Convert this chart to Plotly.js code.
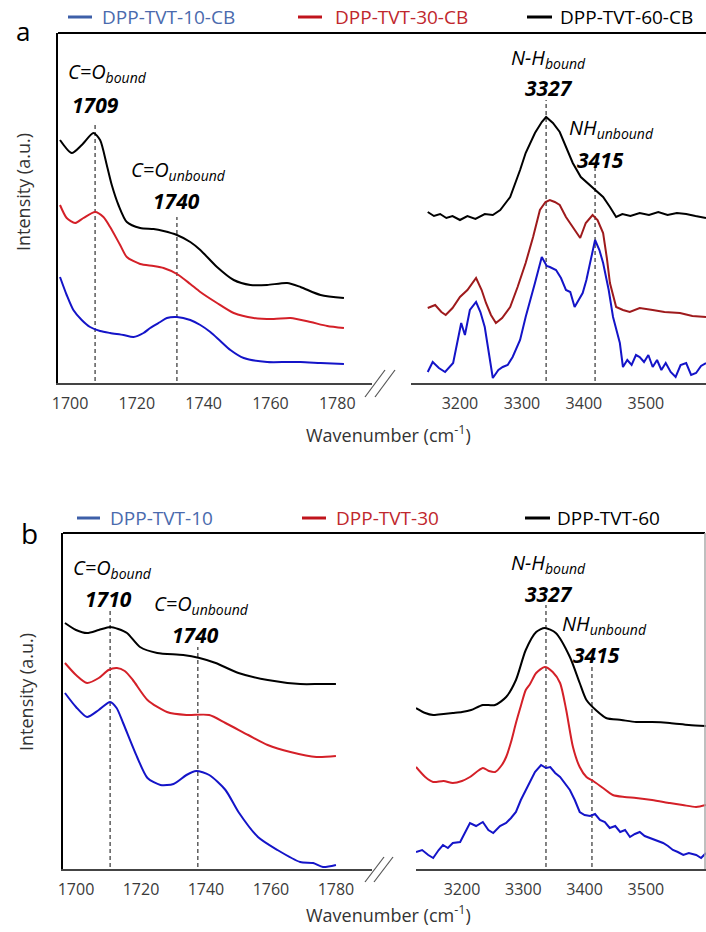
<!DOCTYPE html>
<html>
<head>
<meta charset="utf-8">
<script src="https://cdn.plot.ly/plotly-3.0.1.min.js"></script>
<style>html,body{margin:0;padding:0;background:#fff;}#chart{width:706px;height:932px;}</style>
</head>
<body>
<div id="chart"></div>
<script>
// ---------- Panel a (CB films) ----------
// C=O region
const aCO_black_x = [1697, 1700.5, 1703.5, 1707, 1709, 1711, 1712.5, 1714.5, 1717, 1721, 1725, 1728, 1732, 1736, 1739, 1744, 1749, 1754, 1759, 1765, 1769, 1775, 1782];
const aCO_black_y = [243, 230, 238, 250, 243, 218, 198, 178, 161, 155, 154, 152, 148, 141, 133, 116, 103, 98, 98, 100, 96, 88, 85];
const aCO_red_x = [1697, 1699, 1701.5, 1704, 1707.5, 1710, 1712, 1715, 1717, 1721, 1725, 1728, 1732, 1736, 1739, 1744, 1749, 1755, 1761, 1766, 1772, 1777, 1782];
const aCO_red_y = [178, 165, 160, 165, 171, 166, 156, 138, 126, 119, 117, 115, 109, 99, 91, 80, 70, 65, 64, 65, 61, 57, 55];
const aCO_blue_x = [1697, 1699, 1701, 1703.5, 1706, 1709, 1712, 1716, 1719, 1722, 1724, 1727, 1729, 1732, 1736, 1739, 1742, 1745, 1748, 1752, 1759, 1765, 1769, 1775, 1782];
const aCO_blue_y = [106, 88, 73, 63, 56, 52, 50, 48, 46, 50, 55, 61, 65, 66, 63, 58, 51, 42, 33, 25, 21, 21, 21, 20, 19];
// N-H region
const aNH_black_x = [3148, 3158, 3168, 3178, 3188, 3200, 3212, 3225, 3240, 3253, 3265, 3281, 3297, 3306, 3321, 3332, 3339, 3350, 3361, 3371, 3382, 3395, 3414, 3431, 3442, 3452, 3462, 3475, 3490, 3505, 3520, 3535, 3550, 3565, 3580, 3597];
const aNH_black_y = [171, 167, 169, 165, 167, 163, 167, 164, 169, 168, 173, 186, 213, 230, 250, 261, 266, 260, 251, 236, 220, 206, 195, 186, 176, 166, 169, 167, 170, 168, 171, 168, 170, 169, 167, 165];
const aNH_red_x = [3148, 3160, 3170, 3177, 3188, 3200, 3212, 3226, 3235, 3242, 3250, 3258, 3268, 3281, 3293, 3306, 3318, 3329, 3338, 3345, 3353, 3361, 3371, 3382, 3390, 3394, 3403, 3414, 3422, 3431, 3437, 3442, 3452, 3463, 3474, 3490, 3511, 3530, 3555, 3575, 3597];
const aNH_red_y = [75, 78, 71, 68, 75, 86, 93, 105, 93, 80, 68, 60, 65, 76, 96, 120, 146, 173, 181, 183, 181, 178, 166, 156, 148, 145, 160, 168, 163, 150, 125, 100, 76, 73, 71, 75, 73, 71, 70, 67, 66];
const aNH_blue_x = [3148, 3156, 3166, 3176, 3189, 3202, 3208, 3216, 3226, 3233, 3240, 3247, 3253, 3262, 3269, 3277, 3285, 3297, 3306, 3321, 3332, 3340, 3345, 3355, 3363, 3371, 3378, 3385, 3392, 3398, 3404, 3410, 3418, 3425, 3431, 3440, 3447, 3458, 3463, 3470, 3477, 3484, 3490, 3497, 3504, 3511, 3518, 3525, 3532, 3540, 3548, 3556, 3565, 3573, 3581, 3589, 3597];
const aNH_blue_y = [11, 21, 15, 11, 20, 60, 48, 73, 81, 71, 56, 28, 5, 13, 16, 18, 26, 43, 66, 100, 126, 117, 116, 113, 105, 93, 91, 76, 83, 90, 103, 120, 143, 133, 120, 93, 66, 40, 16, 23, 18, 28, 26, 21, 28, 16, 23, 13, 20, 11, 6, 18, 20, 8, 10, 17, 20];
// peak marker lines (position, top)
const aCO_peaks = [1707.5, 1732];
const aCO_peakTop = [261, 166];
const aNH_peaks = [3339, 3418];
const aNH_peakTop = [283, 215];

// ---------- Panel b (films) ----------
const bCO_black_x = [1696.6, 1700, 1703.4, 1707, 1710.5, 1713, 1715.7, 1719.7, 1725, 1733, 1738, 1743, 1750, 1759, 1769, 1775, 1780];
const bCO_black_y = [246, 239, 236, 239, 242, 240, 236, 222, 216, 214, 211, 206, 196, 189, 185, 185, 185];
const bCO_red_x = [1696.6, 1700, 1703.4, 1707, 1710, 1712.6, 1715, 1717.5, 1722, 1728, 1734, 1741, 1746, 1753, 1759, 1766, 1774, 1780];
const bCO_red_y = [206, 194, 186, 191, 199, 201, 198, 189, 169, 157, 154, 154, 146, 134, 124, 117, 112, 113];
const bCO_blue_x = [1696.6, 1700, 1703.4, 1707, 1710.5, 1712.5, 1714.5, 1718.8, 1722, 1726, 1730, 1734, 1737, 1741, 1746, 1750, 1756, 1762, 1769, 1773, 1776, 1780];
const bCO_blue_y = [176, 162, 152, 159, 167, 161, 146, 112, 91, 84, 85, 94, 98, 94, 79, 57, 32, 19, 7, 6, 2, 4];
const bNH_black_x = [3125, 3140, 3153, 3170, 3185, 3200, 3215, 3234, 3254, 3272, 3288, 3304, 3321, 3335, 3353, 3376, 3392, 3403, 3420, 3435, 3460, 3484, 3510, 3539, 3570, 3598];
const bNH_black_y = [161, 156, 154, 155, 156, 157, 159, 164, 164, 172, 189, 219, 237, 241, 236, 212, 186, 169, 158, 151, 149, 147, 147, 146, 144, 143];
const bNH_red_x = [3125, 3140, 3153, 3170, 3185, 3200, 3213, 3234, 3244, 3254, 3265, 3272, 3280, 3288, 3296, 3304, 3311, 3321, 3335, 3348, 3360, 3370, 3381, 3392, 3403, 3414, 3430, 3446, 3465, 3484, 3510, 3539, 3560, 3582, 3598];
const bNH_red_y = [102, 92, 87, 88, 86, 88, 92, 101, 98, 97, 104, 112, 127, 146, 163, 179, 185, 196, 202, 197, 186, 159, 122, 102, 92, 88, 81, 74, 72, 71, 69, 66, 64, 62, 64];
const bNH_blue_x = [3125, 3135, 3145, 3153, 3162, 3169, 3177, 3185, 3197, 3205, 3213, 3223, 3234, 3243, 3251, 3262, 3272, 3280, 3288, 3296, 3304, 3312, 3319, 3329, 3337, 3344, 3352, 3360, 3368, 3376, 3384, 3392, 3400, 3409, 3417, 3425, 3433, 3441, 3450, 3458, 3466, 3474, 3482, 3490, 3498, 3507, 3516, 3528, 3536, 3544, 3552, 3561, 3570, 3582, 3590, 3598];
const bNH_blue_y = [17, 19, 14, 11, 19, 24, 21, 26, 27, 37, 46, 43, 47, 39, 36, 43, 46, 51, 57, 69, 79, 89, 97, 104, 101, 102, 96, 92, 86, 79, 69, 57, 54, 53, 55, 49, 47, 41, 43, 37, 39, 32, 35, 37, 33, 31, 29, 26, 23, 19, 17, 14, 16, 14, 11, 16];
const bCO_peaks = [1710.5, 1737.5];
const bCO_peakTop = [261, 222];
const bNH_peaks = [3337, 3412];
const bNH_peakTop = [264, 204];

// tick labels
const coTicks = [1700, 1720, 1740, 1760, 1780];
const nhTicks = [3200, 3300, 3400, 3500];

// legend names
const namesA = ['DPP-TVT-10-CB', 'DPP-TVT-30-CB', 'DPP-TVT-60-CB'];
const namesB = ['DPP-TVT-10', 'DPP-TVT-30', 'DPP-TVT-60'];

// ---------- build ----------
const W = 706, H = 932;
const px = v => v / W;
const py = v => 1 - v / H;
const FONT = 'Open Sans, sans-serif';

const BLUE = '#1414c8', RED = '#d42028', DRED = '#9e1a1c', BLACK = '#000000';

function line(x, y, color, xa, ya, shape) {
  return {x: x, y: y, type: 'scatter', mode: 'lines', xaxis: xa, yaxis: ya, showlegend: false, hoverinfo: 'skip',
    line: {color: color, width: 2, shape: shape || 'spline', smoothing: 0.7}};
}
function peakLines(pos, top, xa, ya) {
  const xs = [], ys = [];
  pos.forEach((p, i) => { xs.push(p, p, null); ys.push(2, top[i], null); });
  return {x: xs, y: ys, type: 'scatter', mode: 'lines', xaxis: xa, yaxis: ya, showlegend: false, hoverinfo: 'skip',
    line: {color: '#333', width: 1.2, dash: '4px,3px'}};
}

const traces = [
  peakLines(aCO_peaks, aCO_peakTop, 'x', 'y'),
  peakLines(aNH_peaks, aNH_peakTop, 'x2', 'y'),
  peakLines(bCO_peaks, bCO_peakTop, 'x3', 'y2'),
  peakLines(bNH_peaks, bNH_peakTop, 'x4', 'y2'),
  line(aCO_black_x, aCO_black_y, BLACK, 'x', 'y'),
  line(aCO_red_x, aCO_red_y, RED, 'x', 'y'),
  line(aCO_blue_x, aCO_blue_y, BLUE, 'x', 'y'),
  line(aNH_black_x, aNH_black_y, BLACK, 'x2', 'y', 'linear'),
  line(aNH_red_x, aNH_red_y, DRED, 'x2', 'y', 'linear'),
  line(aNH_blue_x, aNH_blue_y, BLUE, 'x2', 'y', 'linear'),
  line(bCO_black_x, bCO_black_y, BLACK, 'x3', 'y2'),
  line(bCO_red_x, bCO_red_y, RED, 'x3', 'y2'),
  line(bCO_blue_x, bCO_blue_y, BLUE, 'x3', 'y2'),
  line(bNH_black_x, bNH_black_y, BLACK, 'x4', 'y2'),
  line(bNH_red_x, bNH_red_y, RED, 'x4', 'y2'),
  line(bNH_blue_x, bNH_blue_y, BLUE, 'x4', 'y2', 'linear')
];

function xax(domain, range, ticks, anchor) {
  return {domain: domain, range: range, anchor: anchor, tickvals: ticks, ticktext: ticks.map(String),
    showline: true, linecolor: '#444', linewidth: 1.5, showgrid: false, zeroline: false,
    ticks: 'outside', ticklen: 5, tickcolor: 'rgba(0,0,0,0)',
    tickfont: {family: FONT, size: 16, color: '#3a3a3a'}, fixedrange: true};
}
function yax(domain, range, anchor) {
  return {domain: domain, range: range, anchor: anchor, showline: true, linecolor: '#000', linewidth: 2.5,
    showticklabels: false, ticks: '', showgrid: false, zeroline: false, fixedrange: true};
}

const shapes = [];
const annotations = [];
function seg(x0, y0, x1, y1, color, width) {
  shapes.push({type: 'line', xref: 'paper', yref: 'paper', x0: px(x0), y0: py(y0), x1: px(x1), y1: py(y1),
    line: {color: color, width: width}});
}
function txt(text, x, y, size, opts) {
  annotations.push(Object.assign({text: text, xref: 'paper', yref: 'paper', x: px(x), y: py(y),
    xanchor: 'left', yanchor: 'middle', showarrow: false, font: {family: FONT, size: size, color: '#000'}}, opts || {}));
}

// frames & breaks
seg(58, 33, 706, 33, '#000', 2);
seg(63, 533, 705, 533, '#000', 2);
seg(705, 533, 705, 869, '#aaa', 1.5);
seg(365, 397, 385, 370, '#555', 1.2);
seg(375, 397, 395, 370, '#555', 1.2);
seg(365, 882, 384, 857, '#555', 1.2);
seg(374, 882, 393, 857, '#555', 1.2);

// legends
const legColors = ['#3d5fa8', '#c0141c', '#000'];
const legTextColors = ['#4a6aad', '#c0272d', '#000'];
const legA = [[68, 92, 100], [298, 322, 333], [527, 552, 558]];
const legB = [[77, 100, 108], [302, 326, 334], [525, 550, 555]];
legA.forEach((p, i) => { seg(p[0], 17, p[1], 17, legColors[i], 3); txt(namesA[i], p[2], 17, 19, {font: {family: FONT, size: 19, color: legTextColors[i]}}); });
legB.forEach((p, i) => { seg(p[0], 518, p[1], 518, legColors[i], 3); txt(namesB[i], p[2], 518, 19, {font: {family: FONT, size: 19, color: legTextColors[i]}}); });

// panel letters
txt('a', 14, 31, 26);
txt('b', 19, 533, 28);

// peak labels
const it = s => '<i>' + s + '</i>';
const bi = s => '<b><i>' + s + '</i></b>';
txt(it('C=O<sub>bound</sub>'), 66, 73, 20);
txt(bi('1709'), 70, 105, 21);
txt(it('C=O<sub>unbound</sub>'), 129, 170, 20);
txt(bi('1740'), 151, 201, 21);
txt(it('N-H<sub>bound</sub>'), 509, 58, 20);
txt(bi('3327'), 523, 88, 21);
txt(it('NH<sub>unbound</sub>'), 567, 129, 20);
txt(bi('3415'), 575, 160, 21);

txt(it('C=O<sub>bound</sub>'), 71, 568, 20);
txt(bi('1710'), 83, 599, 21);
txt(it('C=O<sub>unbound</sub>'), 152, 604, 20);
txt(bi('1740'), 170, 635, 21);
txt(it('N-H<sub>bound</sub>'), 509, 563, 20);
txt(bi('3327'), 523, 594, 21);
txt(it('NH<sub>unbound</sub>'), 560, 624, 20);
txt(bi('3415'), 571, 655, 21);

// axis titles
txt('Wavenumber (cm<sup>-1</sup>)', 388, 434, 18, {xanchor: 'center', font: {family: FONT, size: 18, color: '#333'}});
txt('Wavenumber (cm<sup>-1</sup>)', 388, 914, 18, {xanchor: 'center', font: {family: FONT, size: 18, color: '#333'}});
txt('Intensity (a.u.)', 23, 192, 18, {xanchor: 'center', textangle: -90, font: {family: FONT, size: 18, color: '#333'}});
txt('Intensity (a.u.)', 26, 692, 18, {xanchor: 'center', textangle: -90, font: {family: FONT, size: 18, color: '#333'}});

const layout = {
  width: W, height: H, margin: {l: 0, r: 0, t: 0, b: 0}, paper_bgcolor: '#fff', plot_bgcolor: 'rgba(0,0,0,0)',
  showlegend: false,
  xaxis: xax([px(58), px(372)], [1696.4, 1790.4], coTicks, 'y'),
  xaxis2: xax([px(411), 1], [3121, 3597], nhTicks, 'y'),
  xaxis3: xax([px(63), px(372)], [1696, 1791.1], coTicks, 'y2'),
  xaxis4: xax([px(416), 1], [3125, 3598], nhTicks, 'y2'),
  yaxis: yax([py(383), py(33)], [0, 350], 'x'),
  yaxis2: yax([py(869), py(533)], [0, 336], 'x3'),
  shapes: shapes,
  annotations: annotations
};

Plotly.newPlot('chart', traces, layout, {staticPlot: true, displayModeBar: false});
</script>
</body>
</html>
